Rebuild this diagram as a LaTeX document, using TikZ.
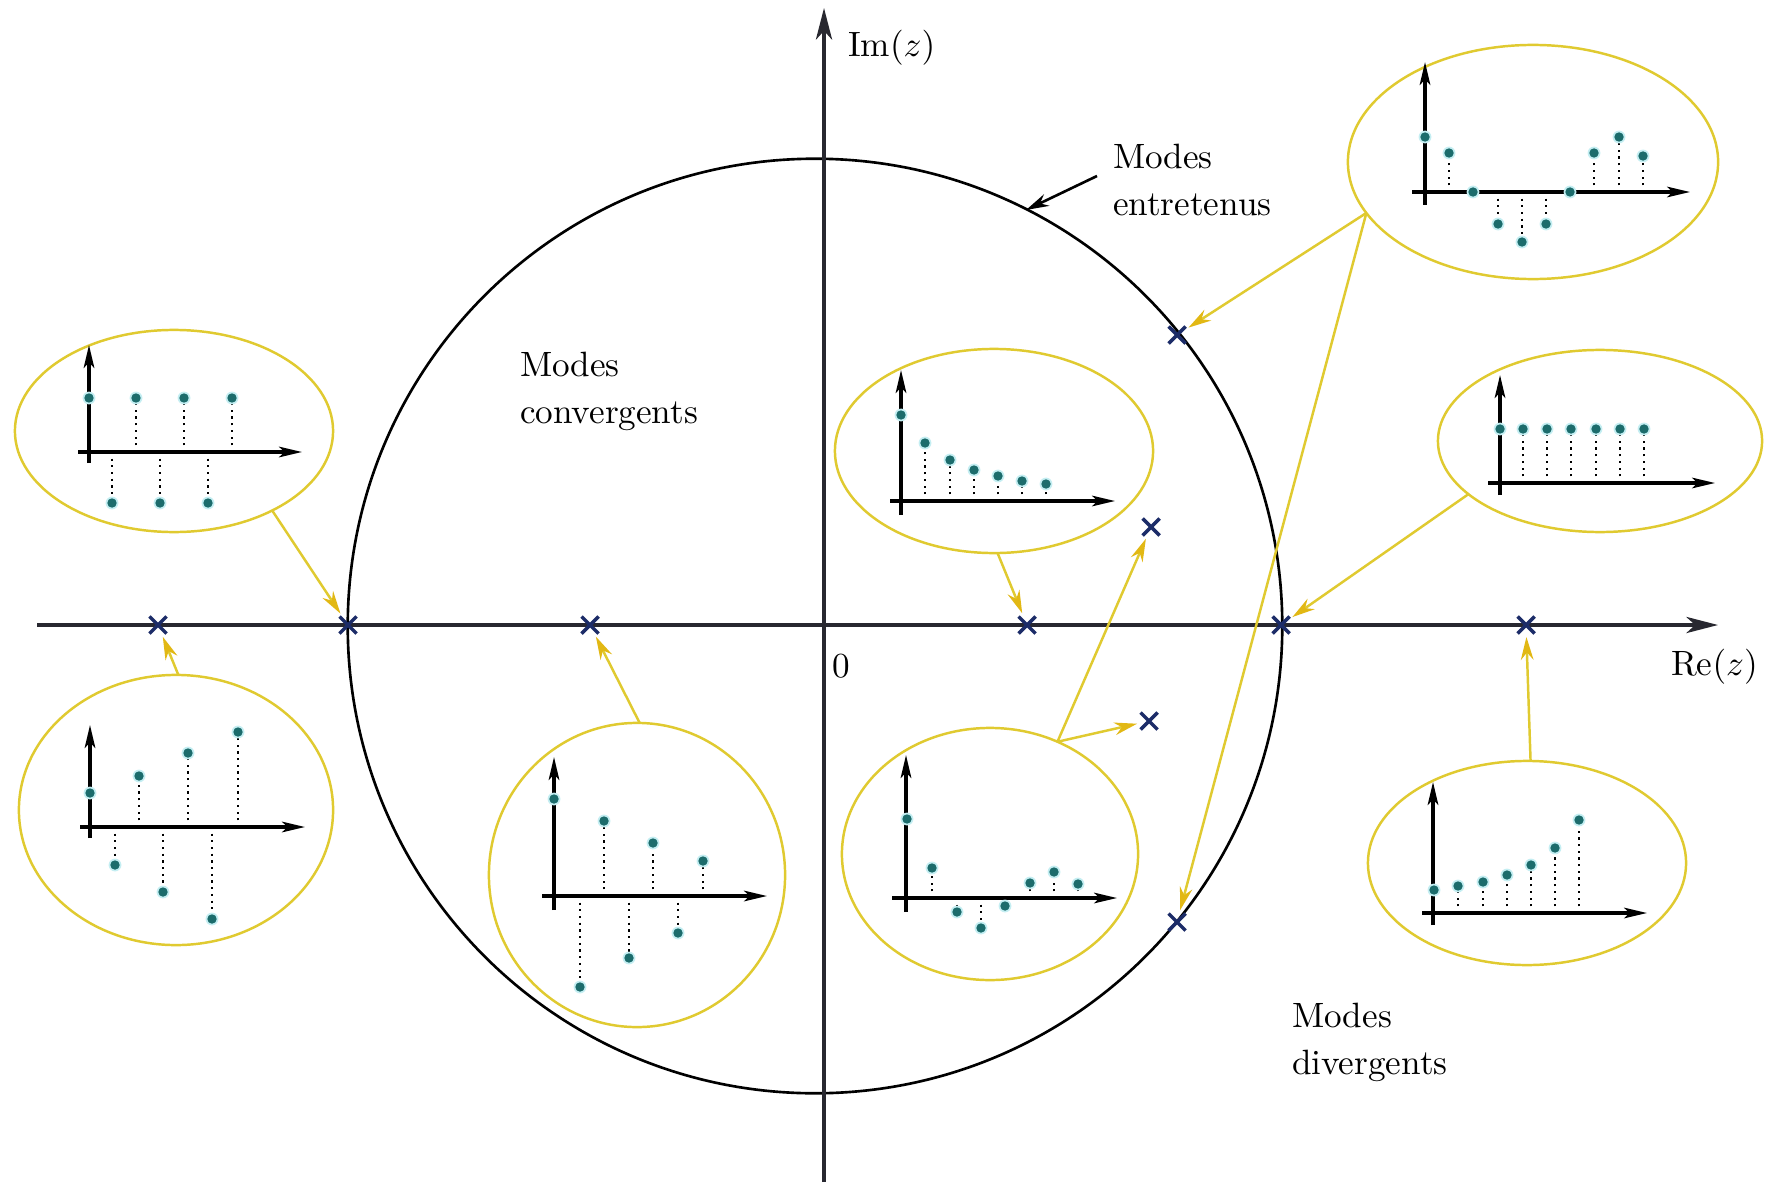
\documentclass[tikz,border=0pt]{standalone}
\usetikzlibrary{arrows.meta,shapes.geometric,shapes.misc}
\definecolor{ellyel}{RGB}{224,202,48}
\definecolor{arryel}{RGB}{226,184,20}
\definecolor{dotteal}{RGB}{28,108,108}
\definecolor{dothalo}{RGB}{196,238,242}
\definecolor{xnavy}{RGB}{28,44,104}
\definecolor{axgray}{RGB}{40,40,48}
\newcommand{\stemplot}[6]{%
  \draw[smallaxis] (#1,#5) -- (#1,#6);
  \draw[smallaxis] (#3,#2) -- (#4,#2);}
\newcommand{\samples}[2]{%
  \foreach \x/\y in {#2}{%
    \draw[stem] (\x,#1) -- (\x,\y);
    \fill[dothalo] (\x,\y) circle[radius=0.064cm];
    \fill[dotteal] (\x,\y) circle[radius=0.047cm];}}
\begin{document}
\begin{tikzpicture}[x=0.01cm,y=-0.01cm,
  mainaxis/.style={line width=1pt, draw=axgray, -{Stealth[length=9pt,width=4.6pt,inset=2.5pt]}},
  pole/.style={cross out, draw=xnavy, line width=1pt, minimum size=0.17cm, inner sep=0pt, outer sep=0pt},
  bubble/.style={ellipse, draw=ellyel, line width=0.7pt, inner sep=0pt, outer sep=0pt},
  yarrow/.style={draw=ellyel, line width=0.7pt, -{Stealth[length=6.5pt,width=3.6pt,color=arryel]}, shorten >=1pt},
  smallaxis/.style={line width=0.9pt, draw=black, -{Stealth[length=6.5pt,width=3pt,inset=1.5pt]}},
  stem/.style={line width=0.75pt, dash pattern=on 0.6pt off 1.3pt},
  lbl/.style={font=\fontsize{10}{13.4}\selectfont, align=left, inner sep=0pt, outer sep=0pt}
]
\fill[white] (0,0) rectangle (1770,1182);
\useasboundingbox (0,0) rectangle (1770,1182);

% unit circle and axes
\draw[line width=0.75pt, black] (815,626) circle[radius=4.67cm];
\draw[mainaxis] (37,625) -- (1718,625);
\draw[mainaxis] (824,1182) -- (824,8);

% labels
\node[lbl, anchor=base west] (imlab) at (848,57) {Im$(z)$};
\node[lbl, anchor=base west] (relab) at (1671,675) {Re$(z)$};
\node[lbl, anchor=base] (zero) at (841,677) {0};
\node[lbl, anchor=north west] (lconv) at (520,352) {Modes\\convergents};
\node[lbl, anchor=north west] (lentr) at (1113,144) {Modes\\entretenus};
\node[lbl, anchor=north west] (ldiv) at (1292,1003) {Modes\\divergents};
\coordinate (ctail) at (1097,176);
\coordinate (ctouch) at (1026,210);
\draw[line width=0.75pt, -{Stealth[length=6.5pt,width=3.6pt]}] (ctail) -- (ctouch);

% poles
\node[pole] (p1) at (158,625) {};
\node[pole] (p2) at (348,625) {};
\node[pole] (p3) at (590,625) {};
\node[pole] (p4) at (1027,625) {};
\node[pole] (p5) at (1281,625) {};
\node[pole] (p6) at (1526,625) {};
\node[pole] (p7) at (1177,335) {};
\node[pole] (p8) at (1151,527) {};
\node[pole] (p9) at (1149,721) {};
\node[pole] (p10) at (1177,922) {};

% bubbles
\node[bubble, minimum width=3.18cm, minimum height=2.02cm] (eA) at (174,431) {};
\node[bubble, minimum width=3.14cm, minimum height=2.70cm] (eB) at (176,810) {};
\node[bubble, minimum width=2.96cm, minimum height=3.04cm] (eC) at (637,875) {};
\node[bubble, minimum width=3.18cm, minimum height=2.04cm] (eD) at (994,451) {};
\node[bubble, minimum width=2.96cm, minimum height=2.52cm] (eE) at (990,854) {};
\node[bubble, minimum width=3.70cm, minimum height=2.34cm] (eF) at (1533,162) {};
\node[bubble, minimum width=3.24cm, minimum height=1.82cm] (eG) at (1600,441) {};
\node[bubble, minimum width=3.18cm, minimum height=2.04cm] (eH) at (1527,863) {};

% connectors
\draw[yarrow] (eA.-39) -- (p2);
\draw[yarrow] (eB.89) -- (p1);
\draw[yarrow] (eC.89) -- (p3);
\draw[yarrow] (eD.-88) -- (p4);
\draw[yarrow] (eE.59) -- (p9);
\draw[yarrow] (eE.59) -- (p8);
\draw[yarrow] (eF.197) -- (p7);
\draw[yarrow] (eF.197) -- (p10);
\draw[yarrow] (eG.202) -- (p5);
\draw[yarrow] (eH.88) -- (p6);

% small stem plots
\stemplot{89}{452}{78}{302}{463}{345}
\samples{452}{89/398,112/503,136/398,160/503,184/398,208/503,232/398}

\stemplot{90}{827}{80}{305}{838}{725}
\samples{827}{90/793,115/865,139/776,163/892,188/753,212/919,238/732}

\stemplot{554}{896}{542}{767}{910}{757}
\samples{896}{554/799,580/987,604/821,629/958,653/843,678/933,703/861}

\stemplot{901}{501}{890}{1115}{515}{370}
\samples{501}{901/415,925/443,950/460,974/470,998/476,1022/481,1046/484}

\stemplot{906}{898}{892}{1117}{912}{755}
\samples{898}{907/819,932/868,957/912,981/928,1005/906,1030/883,1054/872,1078/884}

\stemplot{1425}{192}{1412}{1690}{205}{62}
\samples{192}{1425/137,1449/153,1473/192,1498/224,1522/242,1546/224,1570/192,1594/153,1619/137,1643/156}

\stemplot{1500}{483}{1488}{1715}{495}{375}
\samples{483}{1500/429,1523/429,1547/429,1571/429,1596/429,1620/429,1644/429}

\stemplot{1433}{913}{1422}{1647}{925}{782}
\samples{913}{1434/890,1458/886,1483/882,1507/875,1531/865,1555/848,1579/820}
\end{tikzpicture}
\end{document}
